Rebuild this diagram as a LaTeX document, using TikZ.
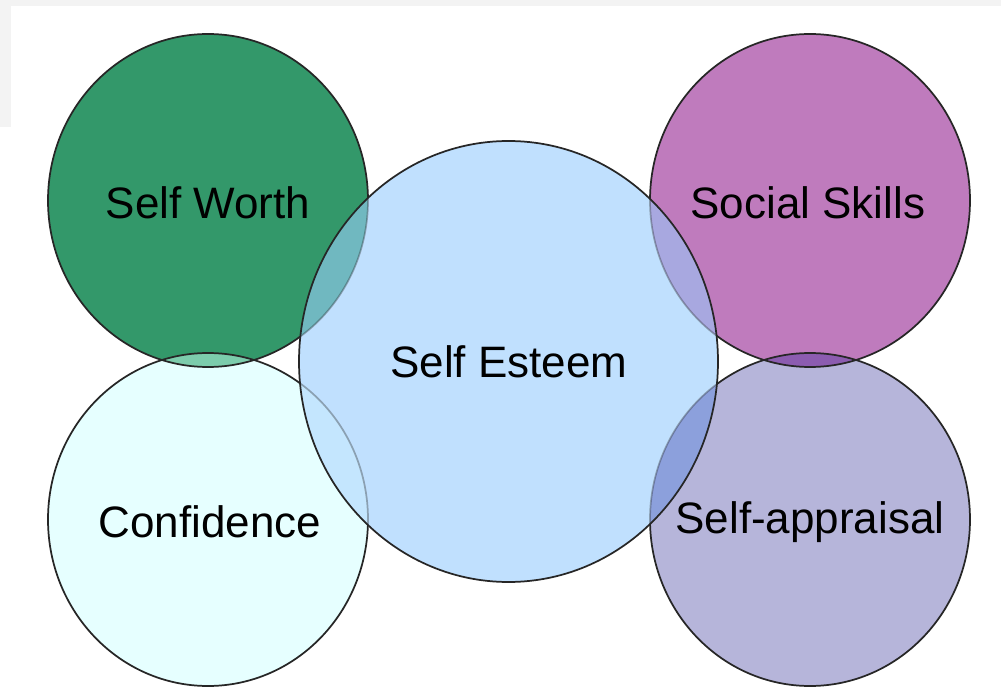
\documentclass[tikz,border=0pt]{standalone}
\usepackage{fontspec}
\setmainfont{Liberation Sans}
\begin{document}
\begin{tikzpicture}[x=0.75pt,y=-0.75pt,
  small/.style={x radius=160,y radius=166.5},
  big/.style={x radius=209.5,y radius=220.5},
  rim/.style={draw=black!85,line width=1.3pt},
  lbl/.style={font=\fontsize{33}{36}\selectfont,text=black,inner sep=0pt}]
\definecolor{bgstrip}{HTML}{F3F3F3}
\definecolor{worth}{HTML}{33986A}
\definecolor{conf}{HTML}{E6FFFF}
\definecolor{esteem}{HTML}{C0E0FE}
\definecolor{social}{HTML}{BF7BBD}
\definecolor{apprais}{HTML}{B6B5DA}
\definecolor{worthconf}{HTML}{7CCCAC}
\definecolor{socapp}{HTML}{8C5CB0}
\definecolor{worthest}{HTML}{70B8C0}
\definecolor{confest}{HTML}{C4E6FE}
\definecolor{socest}{HTML}{A8A8E0}
\definecolor{appest}{HTML}{8CA0DC}
\useasboundingbox (0,0) rectangle (1001,688);
\fill[white] (0,0) rectangle (1001,688);
% light grey margin strips
\fill[bgstrip] (0,0) rectangle (1001,6);
\fill[bgstrip] (0,0) rectangle (11,127);
% centres
\coordinate (sw) at (208,200.5);
\coordinate (cf) at (208,519.5);
\coordinate (se) at (508.5,361.5);
\coordinate (ss) at (810,200.5);
\coordinate (sa) at (810,519.5);
% base fills
\fill[worth] (sw) ellipse[small];
\fill[conf] (cf) ellipse[small];
\fill[social] (ss) ellipse[small];
\fill[apprais] (sa) ellipse[small];
\begin{scope}
  \clip (sw) ellipse[small];
  \fill[worthconf] (cf) ellipse[small];
\end{scope}
\begin{scope}
  \clip (ss) ellipse[small];
  \fill[socapp] (sa) ellipse[small];
\end{scope}
% outlines of the outer circles
\draw[rim] (sw) ellipse[small];
\draw[rim] (cf) ellipse[small];
\draw[rim] (ss) ellipse[small];
\draw[rim] (sa) ellipse[small];
% the central circle with its overlaps
\begin{scope}
  \clip (se) ellipse[big];
  \fill[esteem] (se) ellipse[big];
  \fill[worthest] (sw) ellipse[small];
  \fill[confest] (cf) ellipse[small];
  \fill[socest] (ss) ellipse[small];
  \fill[appest] (sa) ellipse[small];
  \begin{scope}[draw opacity=0.35]
    \draw[rim] (sw) ellipse[small];
    \draw[rim] (cf) ellipse[small];
    \draw[rim] (ss) ellipse[small];
    \draw[rim] (sa) ellipse[small];
  \end{scope}
\end{scope}
\draw[rim] (se) ellipse[big];
% labels
\node[lbl] (tsw) at (208,203) {Self Worth};
\node[lbl] (tss) at (808,203) {Social Skills};
\node[lbl] (tse) at (509,362) {Self Esteem};
\node[lbl] (tcf) at (210,522) {Confidence};
\node[lbl] (tsa) at (810,522) {Self-appraisal};
\end{tikzpicture}
\end{document}
